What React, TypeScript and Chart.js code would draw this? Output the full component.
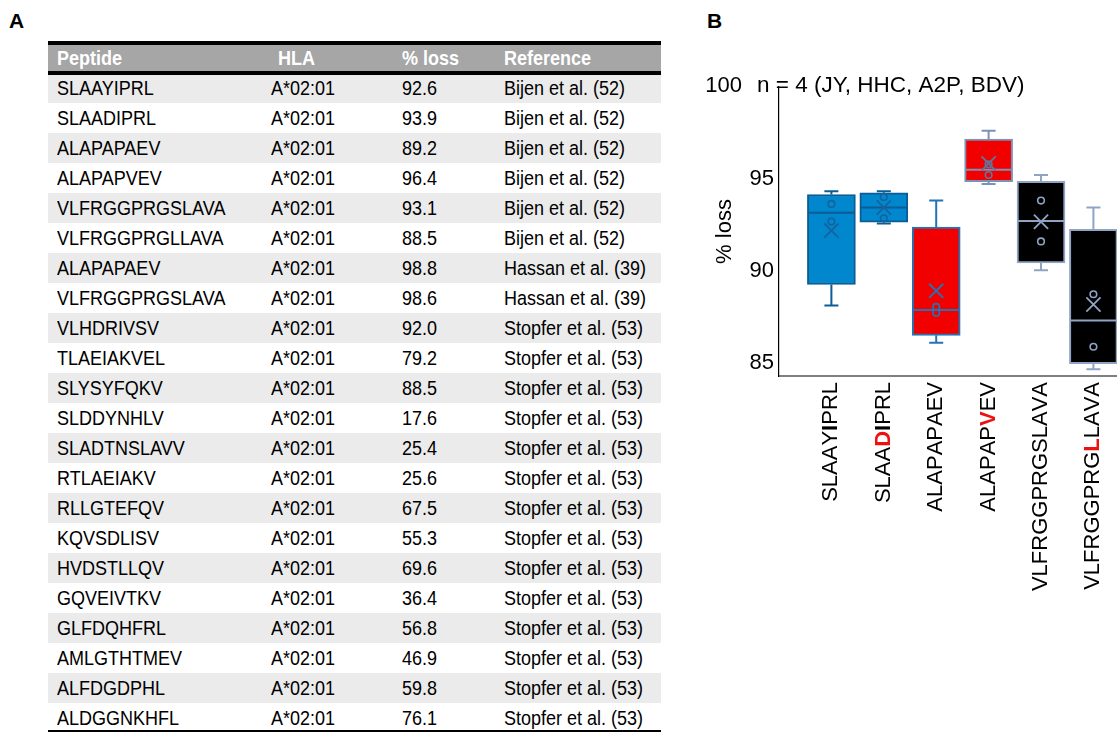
import React, { useEffect, useRef } from "react";
import { Chart, registerables } from "chart.js";

Chart.register(...registerables);

// ---------- Panel A: table data ----------
const tablePeptides = [
  "SLAAYIPRL", "SLAADIPRL", "ALAPAPAEV", "ALAPAPVEV", "VLFRGGPRGSLAVA", "VLFRGGPRGLLAVA",
  "ALAPAPAEV", "VLFRGGPRGSLAVA", "VLHDRIVSV", "TLAEIAKVEL", "SLYSYFQKV", "SLDDYNHLV",
  "SLADTNSLAVV", "RTLAEIAKV", "RLLGTEFQV", "KQVSDLISV", "HVDSTLLQV", "GQVEIVTKV",
  "GLFDQHFRL", "AMLGTHTMEV", "ALFDGDPHL", "ALDGGNKHFL",
];
const tableHla = [
  "A*02:01", "A*02:01", "A*02:01", "A*02:01", "A*02:01", "A*02:01", "A*02:01", "A*02:01",
  "A*02:01", "A*02:01", "A*02:01", "A*02:01", "A*02:01", "A*02:01", "A*02:01", "A*02:01",
  "A*02:01", "A*02:01", "A*02:01", "A*02:01", "A*02:01", "A*02:01",
];
const tableLoss = [
  92.6, 93.9, 89.2, 96.4, 93.1, 88.5, 98.8, 98.6, 92.0, 79.2, 88.5,
  17.6, 25.4, 25.6, 67.5, 55.3, 69.6, 36.4, 56.8, 46.9, 59.8, 76.1,
];
const tableRefs = [
  "Bijen et al. (52)", "Bijen et al. (52)", "Bijen et al. (52)", "Bijen et al. (52)",
  "Bijen et al. (52)", "Bijen et al. (52)", "Hassan et al. (39)", "Hassan et al. (39)",
  "Stopfer et al. (53)", "Stopfer et al. (53)", "Stopfer et al. (53)", "Stopfer et al. (53)",
  "Stopfer et al. (53)", "Stopfer et al. (53)", "Stopfer et al. (53)", "Stopfer et al. (53)",
  "Stopfer et al. (53)", "Stopfer et al. (53)", "Stopfer et al. (53)", "Stopfer et al. (53)",
  "Stopfer et al. (53)", "Stopfer et al. (53)",
];
const tableHeaders = ["Peptide", "HLA", "% loss", "Reference"];

// ---------- Panel B: box plot data (4 donors each) ----------
const boxLabels = ["SLAAYIPRL", "SLAADIPRL", "ALAPAPAEV", "ALAPAPVEV", "VLFRGGPRGSLAVA", "VLFRGGPRGLLAVA"];
const lossSLAAYIPRL = [88.13, 92.69, 93.65, 94.33];
const lossSLAADIPRL = [92.58, 92.87, 94.03, 94.33];
const lossALAPAPAEV = [86.10, 87.73, 88.05, 93.83];
const lossALAPAPVEV = [94.73, 95.22, 95.80, 97.62];
const lossVLFRGGPRGSLAVA = [90.05, 91.61, 93.83, 95.22];
const lossVLFRGGPRGLLAVA = [84.66, 85.89, 88.74, 93.45];
const boxSamples = [lossSLAAYIPRL, lossSLAADIPRL, lossALAPAPAEV, lossALAPAPVEV, lossVLFRGGPRGSLAVA, lossVLFRGGPRGLLAVA];
// highlighted residues: [index, color]
const boxHighlights: [number, string][][] = [
  [[5, "#000000"]],
  [[4, "#ee1111"], [5, "#000000"]],
  [],
  [[6, "#ee1111"]],
  [],
  [[9, "#ee1111"]],
];
const yTicks = [85, 90, 95, 100];
const chartTitle = "n = 4 (JY, HHC, A2P, BDV)";
const yTitle = "% loss";

const boxFill = ["#0087cd", "#0087cd", "#f20000", "#f20000", "#000000", "#000000"];
const boxEdge = ["#0b5d95", "#0b5d95", "#2474b5", "#7a92b8", "#8fa3c5", "#8fa3c5"];
const markColor = ["#14639d", "#14639d", "#2474b5", "#5f769e", "#8fa3c5", "#8fa3c5"];

const FONT = '"Liberation Sans", Arial, Helvetica, sans-serif';

function quartileExc(s: number[], p: number) {
  const n = s.length;
  const pos = (n + 1) * p;
  const k = Math.floor(pos);
  const f = pos - k;
  if (k < 1) return s[0];
  if (k >= n) return s[n - 1];
  return s[k - 1] + f * (s[k] - s[k - 1]);
}

function stats(arr: number[]) {
  const s = [...arr].sort((a, b) => a - b);
  return {
    min: s[0],
    max: s[s.length - 1],
    q1: quartileExc(s, 0.25),
    med: quartileExc(s, 0.5),
    q3: quartileExc(s, 0.75),
    mean: s.reduce((a, b) => a + b, 0) / s.length,
    inner: s.slice(1, s.length - 1),
  };
}

export default function App() {
  const ref = useRef<HTMLCanvasElement>(null);

  useEffect(() => {
    const st = boxSamples.map(stats);

    const boxPlugin = {
      id: "boxExtras",
      afterDatasetDraw(chart: any, args: any) {
        if (args.index !== 0) return;
        const ctx = chart.ctx;
        const xs = chart.scales.x;
        const ys = chart.scales.y;
        ctx.save();
        st.forEach((s, i) => {
          const cx = xs.getPixelForValue(i + 1);
          ctx.strokeStyle = boxEdge[i];
          ctx.lineWidth = 2;
          ctx.beginPath();
          ctx.moveTo(cx, ys.getPixelForValue(s.q3));
          ctx.lineTo(cx, ys.getPixelForValue(s.max));
          ctx.moveTo(cx - 7, ys.getPixelForValue(s.max));
          ctx.lineTo(cx + 7, ys.getPixelForValue(s.max));
          ctx.moveTo(cx, ys.getPixelForValue(s.q1));
          ctx.lineTo(cx, ys.getPixelForValue(s.min));
          ctx.moveTo(cx - 7, ys.getPixelForValue(s.min));
          ctx.lineTo(cx + 7, ys.getPixelForValue(s.min));
          ctx.moveTo(cx - 23, ys.getPixelForValue(s.med));
          ctx.lineTo(cx + 23, ys.getPixelForValue(s.med));
          ctx.stroke();
        });
        ctx.restore();
      },
      afterDraw(chart: any) {
        const ctx = chart.ctx;
        const xs = chart.scales.x;
        const ys = chart.scales.y;
        const area = chart.chartArea;
        ctx.save();
        ctx.fillStyle = "#000";
        ctx.textBaseline = "middle";
        ctx.font = `22px ${FONT}`;
        ctx.textAlign = "right";
        ctx.fillText("100", 42, ys.getPixelForValue(100) - 1);
        ctx.textAlign = "left";
        ctx.font = `22.5px ${FONT}`;
        ctx.fillText(chartTitle, 57, ys.getPixelForValue(100) - 1);
        ctx.font = `22px ${FONT}`;
        ctx.save();
        ctx.translate(25, (area.top + area.bottom) / 2);
        ctx.rotate(-Math.PI / 2);
        ctx.textAlign = "center";
        ctx.fillText(yTitle, 0, 0);
        ctx.restore();
        boxLabels.forEach((lab, i) => {
          const cx = xs.getPixelForValue(i + 1);
          const hl = new Map(boxHighlights[i]);
          const chars = lab.split("");
          const widths = chars.map((c, k) => {
            ctx.font = hl.has(k) ? `bold 22px ${FONT}` : `22px ${FONT}`;
            return ctx.measureText(c).width;
          });
          const total = widths.reduce((a, b) => a + b, 0);
          ctx.save();
          ctx.translate(cx, area.bottom + 6);
          ctx.rotate(-Math.PI / 2);
          ctx.textAlign = "left";
          ctx.textBaseline = "middle";
          let x = -total;
          chars.forEach((c, k) => {
            ctx.font = hl.has(k) ? `bold 22px ${FONT}` : `22px ${FONT}`;
            ctx.fillStyle = hl.has(k) ? (hl.get(k) as string) : "#000";
            ctx.fillText(c, x, 0);
            x += widths[k];
          });
          ctx.restore();
        });
        ctx.restore();
      },
    };

    const innerPts: { x: number; y: number }[] = [];
    const innerCols: string[] = [];
    st.forEach((s, i) => {
      s.inner.forEach((v) => {
        innerPts.push({ x: i + 1, y: v });
        innerCols.push(markColor[i]);
      });
    });

    const chart = new Chart(ref.current as HTMLCanvasElement, {
      type: "bar",
      data: {
        datasets: [
          {
            type: "bar",
            data: st.map((s, i) => ({ x: i + 1, y: [s.q1, s.q3] })) as any,
            backgroundColor: boxFill,
            borderColor: boxEdge,
            borderWidth: 2,
            borderSkipped: false,
            barThickness: 48,
            order: 3,
          } as any,
          {
            type: "scatter",
            data: innerPts,
            pointStyle: "circle",
            pointRadius: 3.3,
            pointBorderWidth: 1.6,
            pointBackgroundColor: "rgba(0,0,0,0)",
            pointBorderColor: innerCols,
            order: 1,
          } as any,
          {
            type: "scatter",
            data: st.map((s, i) => ({ x: i + 1, y: s.mean })),
            pointStyle: "crossRot",
            pointRadius: 10,
            pointBorderWidth: 1.8,
            pointBorderColor: markColor,
            order: 0,
          } as any,
        ],
      },
      options: {
        animation: false,
        responsive: false,
        events: [],
        layout: { autoPadding: false, padding: { top: 87, left: 0, right: 0, bottom: 0 } },
        plugins: { legend: { display: false }, tooltip: { enabled: false } },
        scales: {
          x: {
            type: "linear",
            offset: false,
            min: 0,
            max: 6.45,
            ticks: { display: false },
            grid: { display: false, drawTicks: false, offset: false },
            border: { display: true, color: "#7f7f7f", width: 2 },
            afterFit: (s: any) => {
              s.height = 234;
            },
          },
          y: {
            type: "linear",
            min: 84.3,
            max: 100,
            afterBuildTicks: (s: any) => {
              s.ticks = yTicks.map((v) => ({ value: v }));
            },
            ticks: {
              font: { family: FONT, size: 22 },
              color: "#000",
              padding: 5,
              callback: (v: any) => (v === 100 ? "" : String(v)),
            },
            grid: { display: false, drawTicks: false },
            border: { display: true, color: "#000", width: 1.2 },
            afterFit: (s: any) => {
              s.width = 79;
            },
          },
        },
      } as any,
      plugins: [boxPlugin],
    });
    return () => chart.destroy();
  }, []);

  const colLeft = [57, 271, 402, 504];
  const headLeft = [57, 278, 402, 504];
  const txt = (s: string, bold = false, color = "#000") => (
    <span
      style={{
        display: "inline-block",
        transform: "scaleY(1.15)",
        transformOrigin: "50% 50%",
        fontWeight: bold ? "bold" : "normal",
        color,
      }}
    >
      {s}
    </span>
  );

  return (
    <div
      style={{
        position: "absolute",
        left: 0,
        top: 0,
        width: 1117,
        height: 732,
        background: "#fff",
        overflow: "hidden",
        fontFamily: FONT,
      }}
    >
      <div style={{ position: "absolute", left: 9, top: 10, fontSize: 21, lineHeight: "21px", fontWeight: "bold" }}>A</div>
      <div style={{ position: "absolute", left: 707, top: 10, fontSize: 21, lineHeight: "21px", fontWeight: "bold" }}>B</div>

      {tablePeptides.map((p, k) => {
        const top = 73 + 30 * k;
        const cells = [p, tableHla[k], tableLoss[k].toFixed(1), tableRefs[k]];
        return (
          <div key={k}>
            <div
              style={{
                position: "absolute",
                left: 48,
                top,
                width: 613,
                height: 30,
                background: k % 2 === 0 ? "#ebebeb" : "#ffffff",
              }}
            />
            {cells.map((c, j) => (
              <div
                key={j}
                style={{
                  position: "absolute",
                  left: colLeft[j],
                  top,
                  height: 30,
                  lineHeight: "30px",
                  fontSize: 18,
                  whiteSpace: "nowrap",
                }}
              >
                {txt(c)}
              </div>
            ))}
          </div>
        );
      })}

      <div style={{ position: "absolute", left: 48, top: 41, width: 613, height: 4, background: "#000" }} />
      <div style={{ position: "absolute", left: 48, top: 45, width: 613, height: 26, background: "#a6a6a6" }} />
      {tableHeaders.map((h, j) => (
        <div
          key={h}
          style={{
            position: "absolute",
            left: headLeft[j],
            top: 45,
            height: 26,
            lineHeight: "26px",
            fontSize: 18,
            whiteSpace: "nowrap",
          }}
        >
          {txt(h, true, "#ffffff")}
        </div>
      ))}
      <div style={{ position: "absolute", left: 48, top: 71, width: 613, height: 4, background: "#000" }} />
      <div style={{ position: "absolute", left: 48, top: 730, width: 613, height: 2, background: "#000" }} />

      <canvas
        ref={ref}
        width={417}
        height={610}
        style={{ position: "absolute", left: 700, top: 0, width: 417, height: 610 }}
      />
    </div>
  );
}
